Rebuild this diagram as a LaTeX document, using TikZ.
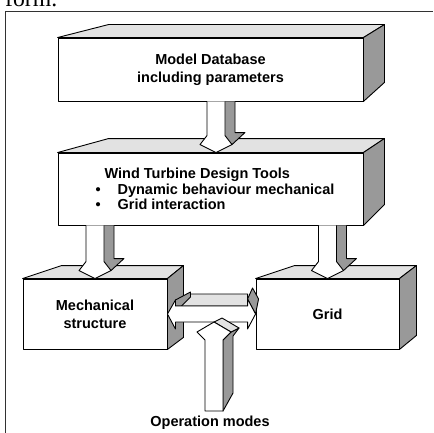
\documentclass[tikz,border=0pt]{standalone}
\usepackage{fontspec}
\usepackage{tikz}
\usetikzlibrary{calc}
\newfontfamily\labelfont{Liberation Sans}
\newfontfamily\captionfont{Liberation Serif}
\definecolor{topgray}{RGB}{226,226,226}
\definecolor{sidegray}{RGB}{153,153,153}
\definecolor{framegray}{RGB}{50,50,50}

\tikzset{
  face/.style={draw=black, line width=0.9pt, line join=round},
  frontface/.style={face, fill=white},
  topface/.style={face, fill=topgray},
  sideface/.style={face, fill=sidegray},
  blocktext/.style={font=\labelfont\fontsize{14.5}{18}\selectfont\bfseries},
  blockbox/.style={frontface, rectangle, inner sep=0pt, align=center, blocktext},
}

%% top and side faces of a block: node, back-left dx, back-right dx, back dy, side rise
\newcommand{\boxfaces}[5]{%
  \draw[topface] (#1.north west) -- ++(#2,-#4) -- ($(#1.north east)+(#3,-#4)$) -- (#1.north east) -- cycle;
  \draw[sideface] (#1.north east) -- ++(#3,-#4) -- ($(#1.south east)+(#3,-#5)$) -- (#1.south east) -- cycle;
}
%% block arrow pointing down: tail, tip
\newcommand{\downblock}[2]{%
  \fill[sidegray] ($(#1)+(9,0)$) -- ($(#1)+(19,0)$) -- ($(#2)+(19,-20)$) -- ($(#2)+(29,-20)$) -- ($(#2)+(16,-8)$) -- ($(#2)+(9,-17)$) -- cycle;
  \draw[face] ($(#1)+(19,0)$) -- ($(#2)+(19,-20)$) -- ($(#2)+(29,-20)$) -- ($(#2)+(16,-8)$);
  \fill[white] ($(#1)+(-9,0)$) -- ($(#2)+(-9,-17)$) -- ($(#2)+(-16,-8)$) -- (#2) -- ($(#2)+(16,-8)$) -- ($(#2)+(9,-17)$) -- ($(#1)+(9,0)$) -- cycle;
  \draw[face] ($(#1)+(-9,0)$) -- ($(#2)+(-9,-17)$) -- ($(#2)+(-16,-8)$) -- (#2) -- ($(#2)+(16,-8)$) -- ($(#2)+(9,-17)$) -- ($(#1)+(9,0)$);
}
%% block arrow pointing up: tail, tip
\newcommand{\upblock}[2]{%
  \draw[sideface] ($(#1)+(9,0)$) -- ($(#1)+(19,-18)$) -- ($(#2)+(19,14)$) -- ($(#2)+(25,6)$) -- ($(#2)+(17,10)$) -- ($(#2)+(9,18)$) -- cycle;
  \draw[topface] (#2) -- ($(#2)+(8,-4)$) -- ($(#2)+(25,6)$) -- ($(#2)+(17,10)$) -- cycle;
  \draw[frontface] ($(#1)+(-9,0)$) -- ($(#2)+(-9,18)$) -- ($(#2)+(-17,10)$) -- (#2) -- ($(#2)+(17,10)$) -- ($(#2)+(9,18)$) -- ($(#1)+(9,0)$) -- cycle;
}
%% block arrow with two heads: left tip, right tip
\newcommand{\sideblock}[2]{%
  \draw[topface] ($(#1)+(8,-8)$) -- ($(#1)+(22,-20)$) -- ($(#2)+(-8,-20)$) -- ($(#2)+(-8,-8)$) -- cycle;
  \draw[sideface] ($(#1)+(8,-14)$) -- ($(#1)+(23,-22)$) -- ($(#1)+(23,-17)$) -- ($(#1)+(14,-8)$) -- ($(#1)+(8,-8)$) -- cycle;
  \draw[sideface] ($(#2)+(-8,-15)$) -- ($(#2)+(-3,-26)$) -- ($(#2)+(3,-15)$) -- (#2) -- cycle;
  \draw[frontface] (#1) -- ($(#1)+(8,-14)$) -- ($(#1)+(8,-8)$) -- ($(#2)+(-8,-8)$) -- ($(#2)+(-8,-15)$) -- (#2) -- ($(#2)+(-8,15)$) -- ($(#2)+(-8,8)$) -- ($(#1)+(8,8)$) -- ($(#1)+(8,15)$) -- cycle;
}

\begin{document}
\begin{tikzpicture}[x=1pt, y=-1pt]
    %% Background
    \useasboundingbox (0,0) rectangle (433,433);
    \node[anchor=base west, inner sep=0pt, font=\captionfont\fontsize{23.7}{28}\selectfont] (formtext) at (5,7) {form.};
    \draw[framegray, line width=1pt] (5,433) -- (5,12) -- (433,12);
    %% Blocks
    \node[blockbox, minimum width=305pt, minimum height=63pt] (db) at (210.5,69.5) {Model Database\\including parameters};
    \boxfaces{db}{51}{21}{13}{19}
    \node[blockbox, minimum width=305pt, minimum height=72pt, align=left,
      font=\labelfont\fontsize{14.5}{15.5}\selectfont\bfseries] (tools) at (210.5,189)
      {\hspace*{18pt}Wind Turbine Design Tools\\
       \hspace*{9pt}\makebox[22pt][l]{\textbullet}Dynamic behaviour mechanical\\
       \hspace*{9pt}\makebox[22pt][l]{\textbullet}Grid interaction};
    \boxfaces{tools}{51}{21}{14}{21}
    \node[blockbox, minimum width=144pt, minimum height=70pt] (mech) at (95,314) {Mechanical\\structure};
    \boxfaces{mech}{39}{16}{13}{12}
    \node[blockbox, minimum width=143pt, minimum height=70pt] (grid) at (327.5,314) {Grid};
    \boxfaces{grid}{39}{17}{13}{14}
    \node[blocktext, inner sep=0pt] (ops) at (210,423) {Operation modes};
    %% Arrows
    \coordinate (dbout) at ($(db.south)+(5.5,0)$);
    \coordinate (toolsin) at (dbout |- tools.north);
    \downblock{dbout}{toolsin}
    \coordinate (mechtail) at (mech |- tools.south);
    \downblock{mechtail}{mech.north}
    \coordinate (gridtail) at (grid |- tools.south);
    \downblock{gridtail}{grid.north}
    \sideblock{mech.east}{grid.west}
    \coordinate (opstail) at ($(ops.north)+(4,-5)$);
    \coordinate (opstip) at ($(opstail |- mech.center)+(0,8)$);
    \upblock{opstail}{opstip}
\end{tikzpicture}
\end{document}
